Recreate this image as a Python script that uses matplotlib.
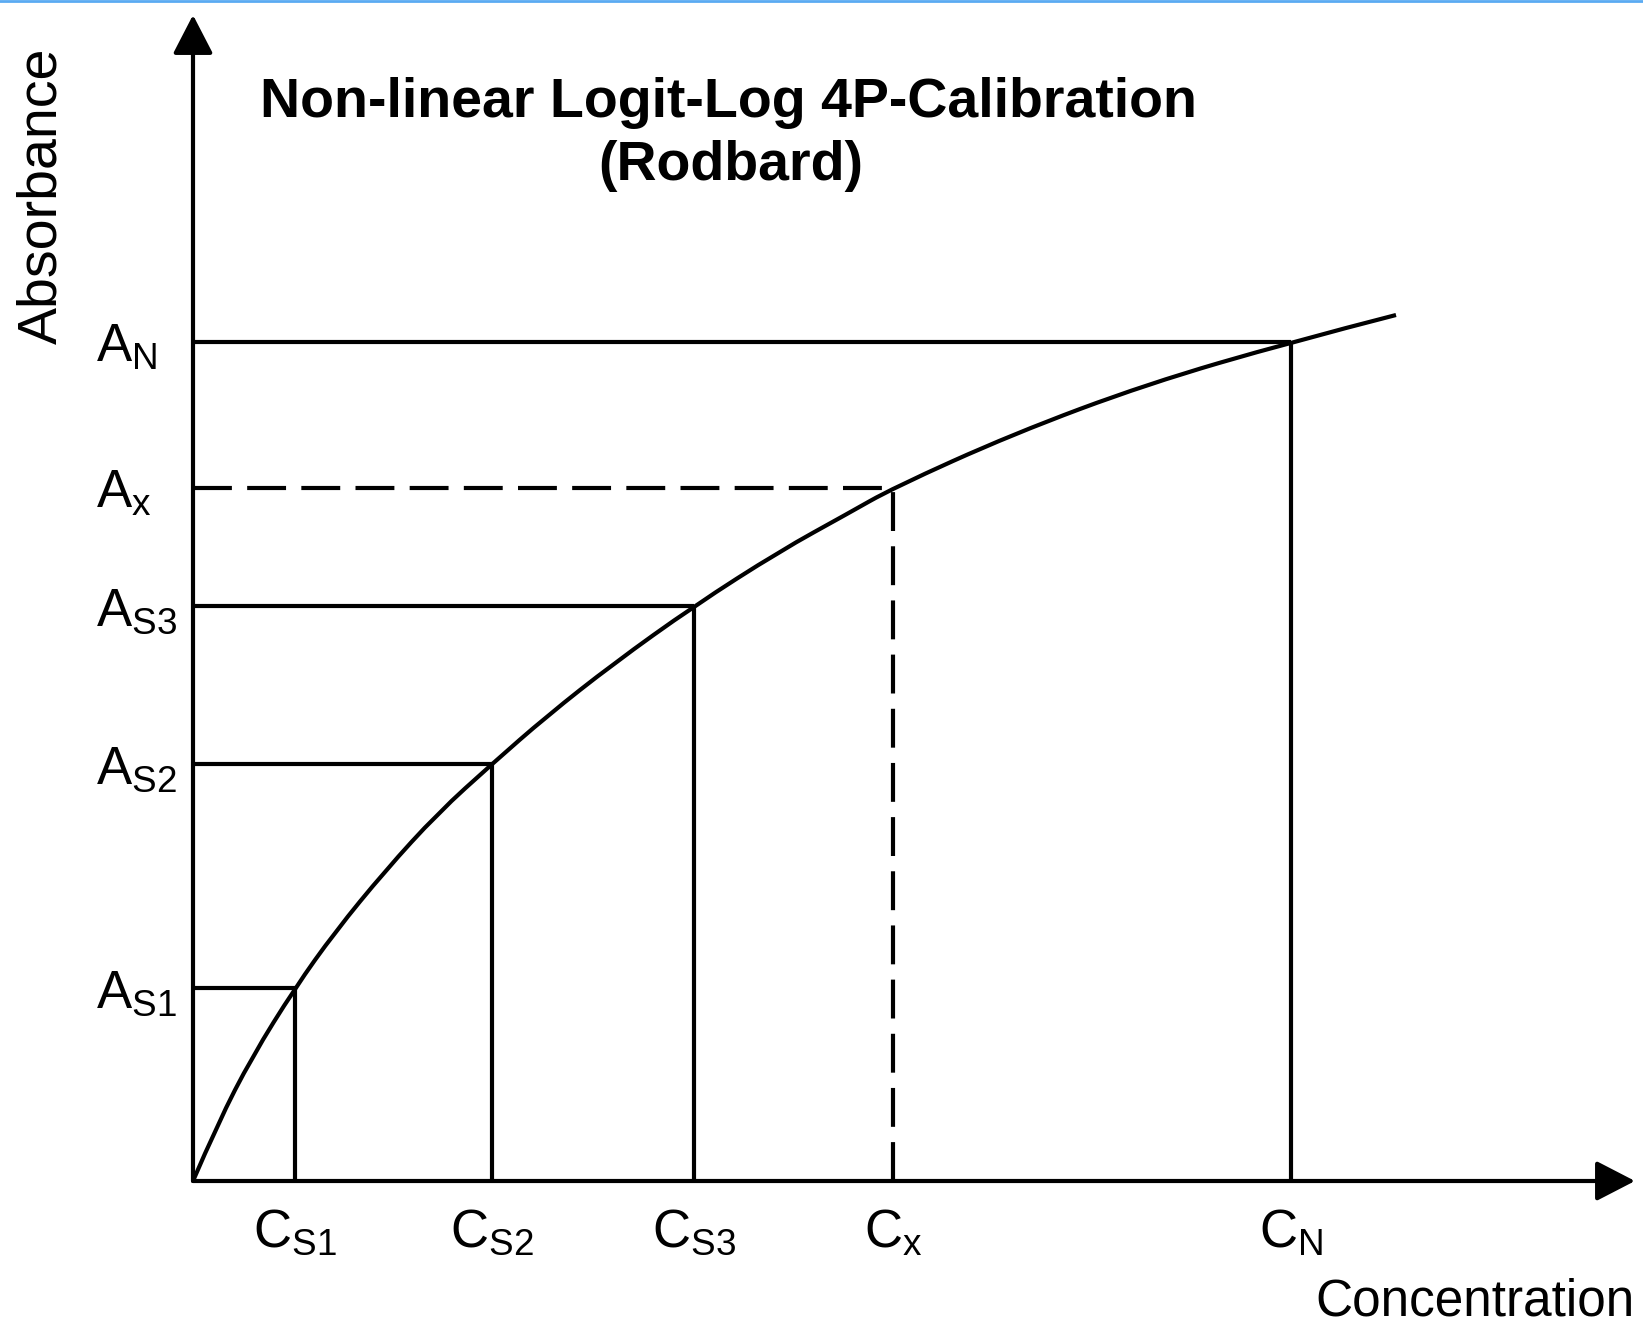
import matplotlib
matplotlib.use("Agg")
import matplotlib.pyplot as plt
from matplotlib.lines import Line2D
from matplotlib.path import Path
from matplotlib.patches import PathPatch

# Standards and sample (arbitrary units)
std_labels = ["S1", "S2", "S3"]
std_conc = [1.02, 2.99, 5.01]
std_abs = [1.93, 4.17, 5.75]

sample_conc = 7.00
sample_abs = 6.93

top_conc = 10.98
top_abs = 8.39

# Calibration curve
curve_conc = [0, 0.25, 0.59, 1.02, 1.42, 1.92, 2.45, 2.99, 3.54, 4.20,
              5.01, 5.87, 6.54, 7.00, 8.20, 9.54, 10.98, 12.03]
curve_abs = [0, 0.58, 1.24, 1.93, 2.49, 3.10, 3.68, 4.17, 4.65, 5.17,
             5.75, 6.30, 6.67, 6.93, 7.47, 7.97, 8.39, 8.66]

title_lines = ["Non-linear Logit-Log 4P-Calibration", "(Rodbard)"]
x_label = "Concentration"
y_label = "Absorbance"

W, H = 1643, 1328
LW = 3.0
DASH = (0, (28, 11))


def smooth_path(xs, ys):
    # quadratic bezier through the midpoints, read points act as controls
    pts = list(zip(xs, ys))
    verts = [pts[0]]
    codes = [Path.MOVETO]
    for i in range(1, len(pts) - 1):
        mid = ((pts[i][0] + pts[i + 1][0]) / 2, (pts[i][1] + pts[i + 1][1]) / 2)
        if i == len(pts) - 2:
            mid = pts[-1]
        verts += [pts[i], mid]
        codes += [Path.CURVE3, Path.CURVE3]
    return Path(verts, codes)


def main():
    plt.rcParams["font.family"] = ["Liberation Sans", "DejaVu Sans"]
    plt.rcParams["mathtext.fontset"] = "custom"
    plt.rcParams["mathtext.rm"] = "Liberation Sans"
    plt.rcParams["mathtext.it"] = "Liberation Sans:italic"
    plt.rcParams["lines.scale_dashes"] = False

    fig = plt.figure(figsize=(W / 100, H / 100), dpi=100)
    fig.patch.set_facecolor("white")

    # axes origin sits where the two arrows meet
    x0, y0 = 193, 1181
    x1, y1 = 1635, 15
    ax = fig.add_axes([x0 / W, (H - y0) / H, (x1 - x0) / W, (y0 - y1) / H])
    xmax = (x1 - x0) / 100
    ymax = (y0 - y1) / 100
    ax.set_xlim(0, xmax)
    ax.set_ylim(0, ymax)
    ax.axis("off")

    # arrows for the axes
    arrow = dict(arrowstyle="-|>,head_length=1.2,head_width=0.62", lw=LW,
                 color="black", mutation_scale=20, shrinkA=0, shrinkB=0)
    ax.annotate("", xy=(0, ymax), xytext=(0, 0), arrowprops=arrow,
                annotation_clip=False)
    ax.annotate("", xy=(xmax, 0), xytext=(0, 0), arrowprops=arrow,
                annotation_clip=False)

    # curve
    curve = PathPatch(smooth_path(curve_conc, curve_abs), facecolor="none",
                      edgecolor="black", lw=LW, capstyle="butt",
                      clip_on=False)
    ax.add_patch(curve)

    # standards: solid drop lines
    for c, a in zip(std_conc + [top_conc], std_abs + [top_abs]):
        ax.plot([0, c], [a, a], color="black", lw=LW, solid_capstyle="butt")
        ax.plot([c, c], [0, a], color="black", lw=LW, solid_capstyle="butt")

    # unknown sample: dashed
    ax.plot([0, sample_conc], [sample_abs, sample_abs], color="black",
            lw=LW, linestyle=DASH)
    ax.plot([sample_conc, sample_conc], [0, sample_abs], color="black",
            lw=LW, linestyle=DASH)

    # labels on the y side (left aligned)
    names = std_labels + ["x", "N"]
    y_vals = std_abs + [sample_abs, top_abs]
    for name, a in zip(names, y_vals):
        ax.text(-0.97, a - 0.06, r"$\mathrm{A}_{\mathrm{%s}}$" % name,
                fontsize=38, ha="left", va="center", clip_on=False)

    # labels on the x side
    x_vals = std_conc + [sample_conc, top_conc]
    for name, c in zip(names, x_vals):
        ax.text(c, -0.27, r"$\mathrm{C}_{\mathrm{%s}}$" % name,
                fontsize=38, ha="center", va="top", clip_on=False)

    fig.text(1635 / W, 1 - 1302 / H, x_label, fontsize=37,
             ha="right", va="center")
    fig.text(42 / W, 1 - 196 / H, y_label, fontsize=40, rotation=90,
             ha="center", va="center")

    # title, one text per line
    fig.text(729 / W, 1 - 117 / H, title_lines[0], fontsize=40,
             fontweight="bold", ha="center", va="baseline")
    fig.text(731 / W, 1 - 180 / H, title_lines[1], fontsize=40,
             fontweight="bold", ha="center", va="baseline")

    # thin blue border along the top edge
    fig.add_artist(Line2D([0, 1], [1 - 1.2 / H, 1 - 1.2 / H],
                          transform=fig.transFigure, color="#5aaaf2", lw=2))

    fig.savefig("out.png", dpi=100, facecolor="white")


if __name__ == "__main__":
    main()
